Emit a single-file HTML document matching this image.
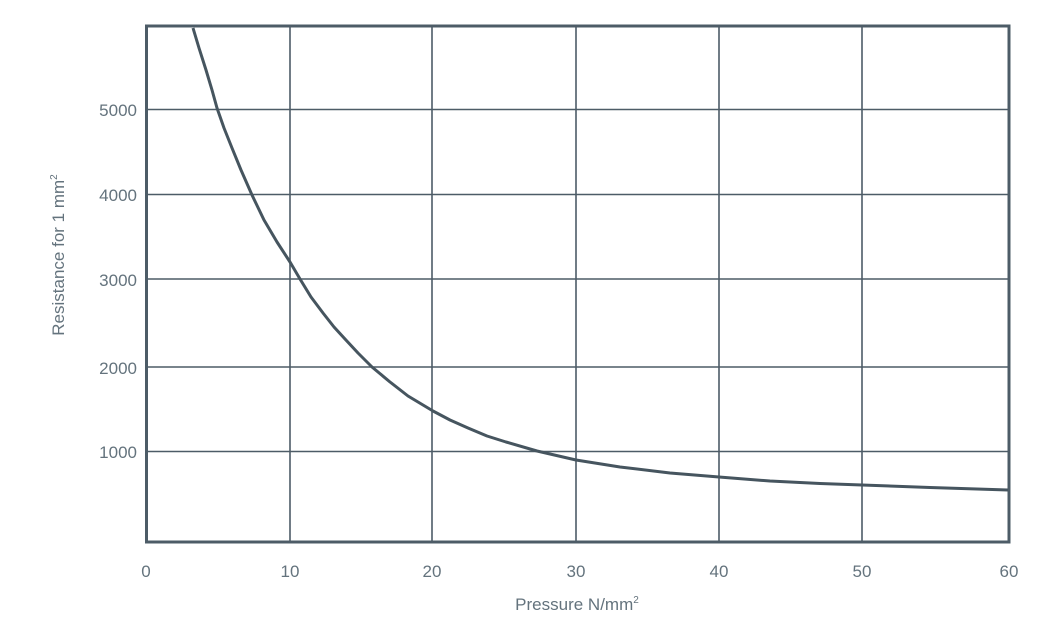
<!DOCTYPE html>
<html><head><style>
body{margin:0;background:#fff;}
svg{display:block;}
text{font-family:"Liberation Sans",sans-serif;fill:#64737d;font-size:17px;}
</style></head><body>
<svg width="1041" height="624" viewBox="0 0 1041 624">
<g stroke="#4d5c67" stroke-width="1.6" fill="none">
<line x1="290" y1="26" x2="290" y2="542"/>
<line x1="432" y1="26" x2="432" y2="542"/>
<line x1="576" y1="26" x2="576" y2="542"/>
<line x1="719" y1="26" x2="719" y2="542"/>
<line x1="862" y1="26" x2="862" y2="542"/>
<line x1="146" y1="109.5" x2="1009" y2="109.5"/>
<line x1="146" y1="194.5" x2="1009" y2="194.5"/>
<line x1="146" y1="279" x2="1009" y2="279"/>
<line x1="146" y1="367" x2="1009" y2="367"/>
<line x1="146" y1="451.5" x2="1009" y2="451.5"/>
</g>
<rect x="146.5" y="26" width="862.5" height="516" fill="none" stroke="#4d5c67" stroke-width="3"/>
<polyline fill="none" stroke="#46555f" stroke-width="3" stroke-linejoin="round" points="193,28 199,48 206,70 212,90 217,108 224,128 232,148 241,170 252,195 264,220 277,242 290,262 300,279 311,297 323,313 334,327 345,339 358,353 372,367 390,382 408,396 433,411 450,420 468,428 487,436 506,442 537,451 576,460 620,467 670,473 719,477 770,481 820,483.5 862,485 930,487.5 1008,490"/>
<g text-anchor="end">
<text x="137" y="116">5000</text>
<text x="137" y="201">4000</text>
<text x="137" y="286">3000</text>
<text x="137" y="374">2000</text>
<text x="137" y="458">1000</text>
</g>
<g text-anchor="middle">
<text x="146" y="577">0</text>
<text x="290" y="577">10</text>
<text x="432" y="577">20</text>
<text x="576" y="577">30</text>
<text x="719" y="577">40</text>
<text x="862" y="577">50</text>
<text x="1009" y="577">60</text>
<text x="577" y="610" font-size="16">Pressure N/mm<tspan font-size="10" dy="-7">2</tspan></text>
<text transform="translate(64,255) rotate(-90)" font-size="16">Resistance for 1 mm<tspan font-size="10" dy="-7">2</tspan></text>
</g>
</svg>
</body></html>
